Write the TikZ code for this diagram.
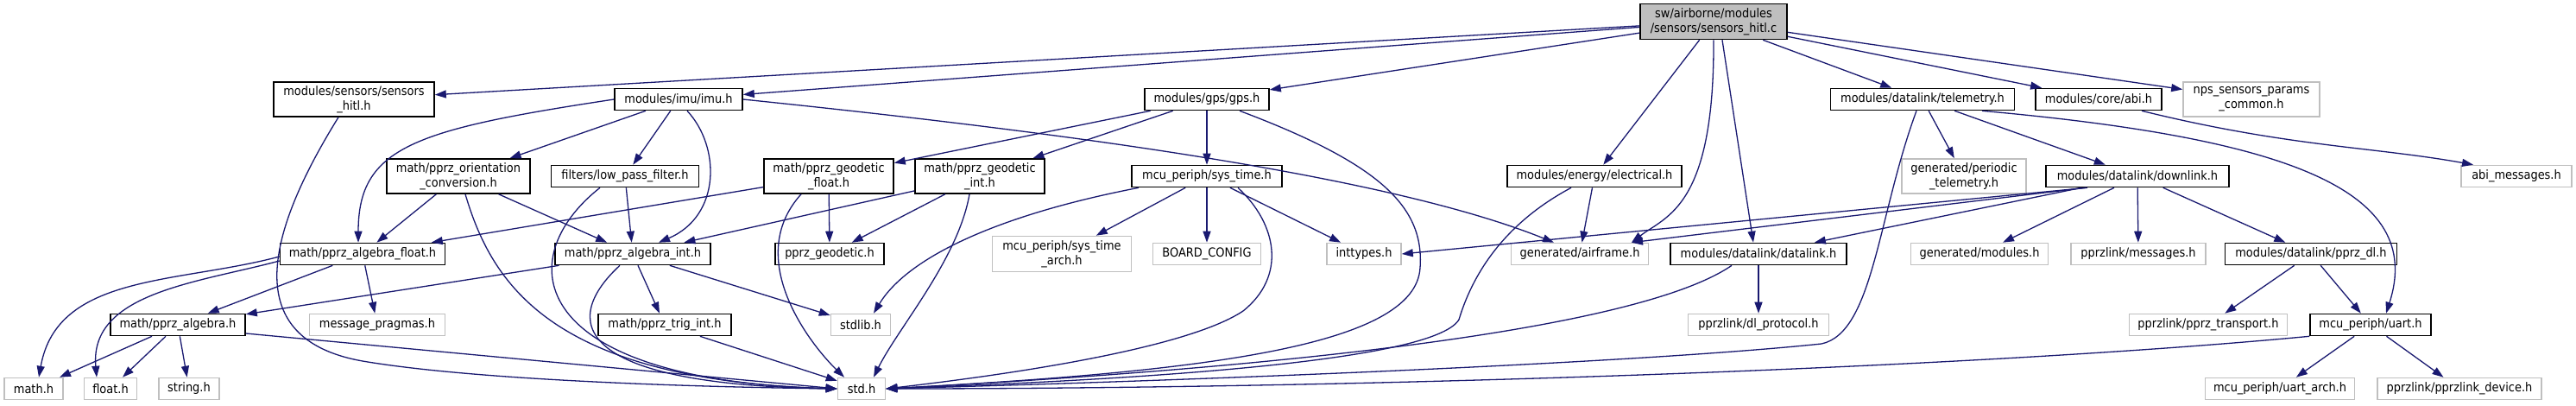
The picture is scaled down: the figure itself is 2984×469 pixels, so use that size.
\documentclass[tikz,border=0pt]{standalone}
\usepackage{fontspec}
\setmainfont{DejaVu Sans Condensed}
\usetikzlibrary{arrows.meta}
\definecolor{edgeblue}{RGB}{25,25,112}
\definecolor{undoc}{RGB}{191,191,191}

\begin{document}
\begin{tikzpicture}[x=1pt, y=-1pt,
    file/.style={line width=1.6pt, fill=white, inner sep=0pt, minimum height=25pt, align=center, font=\fontsize{14.4}{17}\selectfont},
    doc/.style={file, draw=black},
    ext/.style={file, draw=undoc},
    dep/.style={draw=edgeblue, line width=1.3pt, -{Triangle[length=13pt,width=9pt]}}]
        \fill[white] (0,0) rectangle (2984,469);

        % Draw files, row by row
        \node[doc, fill=undoc, minimum width=170pt, minimum height=41pt] (root) at (1985,25) {sw/airborne/modules\\/sensors/sensors\_hitl.c};

        \node[doc, minimum width=186pt, minimum height=40pt] (hitlh) at (410,115) {modules/sensors/sensors\\\_hitl.h};
        \node[doc, minimum width=148pt] (imu) at (786,115) {modules/imu/imu.h};
        \node[doc, minimum width=144pt] (gps) at (1398,115) {modules/gps/gps.h};
        \node[doc, minimum width=213pt] (telemetry) at (2227,115) {modules/datalink/telemetry.h};
        \node[doc, minimum width=146pt] (abi) at (2431,115) {modules/core/abi.h};
        \node[ext, minimum width=158pt, minimum height=40pt] (nps) at (2608,115) {nps\_sensors\_params\\\_common.h};

        \node[doc, minimum width=166pt, minimum height=40pt] (orient) at (531,204) {math/pprz\_orientation\\\_conversion.h};
        \node[doc, minimum width=171pt] (lowpass) at (724,204) {filters/low\_pass\_filter.h};
        \node[doc, minimum width=150pt, minimum height=40pt] (geofloat) at (960,204) {math/pprz\_geodetic\\\_float.h};
        \node[doc, minimum width=150pt, minimum height=40pt] (geoint) at (1135,204) {math/pprz\_geodetic\\\_int.h};
        \node[doc, minimum width=174pt] (systime) at (1398,204) {mcu\_periph/sys\_time.h};
        \node[doc, minimum width=202pt] (electrical) at (1847,204) {modules/energy/electrical.h};
        \node[ext, minimum width=144pt, minimum height=40pt] (periodic) at (2275,204) {generated/periodic\\\_telemetry.h};
        \node[doc, minimum width=212pt] (downlink) at (2476,204) {modules/datalink/downlink.h};
        \node[ext, minimum width=128pt] (abimsg) at (2915,204) {abi\_messages.h};

        \node[doc, minimum width=191pt] (algfloat) at (420,294) {math/pprz\_algebra\_float.h};
        \node[doc, minimum width=180pt] (algint) at (733,294) {math/pprz\_algebra\_int.h};
        \node[doc, minimum width=126pt] (geodetic) at (961,294) {pprz\_geodetic.h};
        \node[ext, minimum width=161pt, minimum height=41pt] (systimearch) at (1230,294) {mcu\_periph/sys\_time\\\_arch.h};
        \node[ext, minimum width=125pt] (board) at (1398,294) {BOARD\_CONFIG};
        \node[ext, minimum width=86pt] (inttypes) at (1580,294) {inttypes.h};
        \node[ext, minimum width=159pt] (airframe) at (1830,294) {generated/airframe.h};
        \node[doc, minimum width=204pt] (datalink) at (2037,294) {modules/datalink/datalink.h};
        \node[ext, minimum width=159pt] (modules) at (2293,294) {generated/modules.h};
        \node[ext, minimum width=156pt] (messages) at (2477,294) {pprzlink/messages.h};
        \node[doc, minimum width=199pt] (pprzdl) at (2677,294) {modules/datalink/pprz\_dl.h};

        \node[doc, minimum width=156pt] (algebra) at (206,376) {math/pprz\_algebra.h};
        \node[ext, minimum width=157pt] (pragmas) at (437,376) {message\_pragmas.h};
        \node[doc, minimum width=154pt] (trigint) at (770,376) {math/pprz\_trig\_int.h};
        \node[ext, minimum width=69pt] (stdlib) at (997,376) {stdlib.h};
        \node[ext, minimum width=163pt] (dlprotocol) at (2037,376) {pprzlink/dl\_protocol.h};
        \node[ext, minimum width=183pt] (transport) at (2558,376) {pprzlink/pprz\_transport.h};
        \node[doc, minimum width=140pt] (uart) at (2746,376) {mcu\_periph/uart.h};

        \node[ext, minimum width=68pt] (math) at (39,450) {math.h};
        \node[ext, minimum width=61pt] (float) at (128,450) {float.h};
        \node[ext, minimum width=70pt] (string) at (219,450) {string.h};
        \node[ext, minimum width=55pt] (std) at (998,450) {std.h};
        \node[ext, minimum width=173pt] (uartarch) at (2641,450) {mcu\_periph/uart\_arch.h};
        \node[ext, minimum width=190pt] (device) at (2849,450) {pprzlink/pprzlink\_device.h};

        % Straight includes
        \foreach \t in {hitlh,imu,gps,electrical,telemetry,abi,nps}
            \draw[dep] (root) -- (\t);
        \foreach \t in {orient,lowpass}
            \draw[dep] (imu) -- (\t);
        \foreach \t in {algfloat,algint}
            \draw[dep] (orient) -- (\t);
        \foreach \t in {algfloat,geodetic}
            \draw[dep] (geofloat) -- (\t);
        \foreach \t in {algint,geodetic}
            \draw[dep] (geoint) -- (\t);
        \foreach \t in {geofloat,geoint,systime}
            \draw[dep] (gps) -- (\t);
        \foreach \t in {systimearch,board,inttypes}
            \draw[dep] (systime) -- (\t);
        \foreach \t in {periodic,downlink}
            \draw[dep] (telemetry) -- (\t);
        \foreach \t in {datalink,modules,messages,pprzdl}
            \draw[dep] (downlink) -- (\t);
        \foreach \t in {transport,uart}
            \draw[dep] (pprzdl) -- (\t);
        \foreach \t in {uartarch,device}
            \draw[dep] (uart) -- (\t);
        \foreach \t in {algebra,pragmas}
            \draw[dep] (algfloat) -- (\t);
        \foreach \t in {algebra,trigint,stdlib}
            \draw[dep] (algint) -- (\t);
        \foreach \t in {math,float,string}
            \draw[dep] (algebra) -- (\t);
        \draw[dep] (lowpass) -- (algint);
        \draw[dep] (electrical) -- (airframe);
        \draw[dep] (datalink) -- (dlprotocol);
        \draw[dep] (trigint) -- (std);
        \draw[dep] ([xshift=10pt]root.south) -- ([xshift=-6pt]datalink.north);
        \draw[dep] ([xshift=-58pt]downlink.south) -- (inttypes.east);
        \draw[dep] ([xshift=-60pt]downlink.south) -- ([xshift=60pt]airframe.north);
        \draw[dep] ([yshift=-10pt]algebra.east) -- (std.west);

        % Curved includes
        \draw[dep] (root.south) .. controls (1986,240) and (1930,250) .. ([xshift=60pt]airframe.north);
        \draw[dep] (imu.west) .. controls (480,150) and (415,170) .. ([xshift=-5pt]algfloat.north);
        \draw[dep] ([xshift=10pt]imu.south) .. controls (835,170) and (835,250) .. ([xshift=30pt]algint.north);
        \draw[dep] (imu.east) .. controls (1200,150) and (1600,200) .. ([xshift=-30pt]airframe.north);
        \draw[dep] ([xshift=-32pt]geofloat.south) .. controls (860,300) and (940,400) .. ([xshift=-20pt]std.north);
        \draw[dep] ([xshift=-12pt]geoint.south) .. controls (1110,300) and (1040,380) .. ([xshift=14pt]std.north);
        \draw[dep] ([xshift=-79pt]systime.south) .. controls (1150,250) and (1050,300) .. ([xshift=15pt]stdlib.north);
        \draw[dep] ([xshift=69pt]telemetry.south) .. controls (2650,160) and (2810,220) .. ([xshift=18pt]uart.north);
        \draw[dep] ([xshift=50pt]abi.south) .. controls (2650,170) and (2750,170) .. ([xshift=-50pt]abimsg.north);
        \draw[dep] ([yshift=-3pt]algfloat.west) to[out=195,in=80] ([xshift=6pt]math.north);
        \draw[dep] ([yshift=-8pt]algfloat.west) to[out=195,in=95] ([xshift=-16pt]float.north);

        % Includes of std.h
        \draw[dep] ([xshift=-18pt]hitlh.south) .. controls (290,300) and (296,396) .. (420,418) .. controls (550,440) and (800,448) .. (std.west);
        \draw[dep] ([xshift=8pt]orient.south) .. controls (570,330) and (640,440) .. (std.west);
        \draw[dep] ([xshift=-29pt]lowpass.south) .. controls (590,300) and (610,440) .. (std.west);
        \draw[dep] ([xshift=-15pt]algint.south) .. controls (650,370) and (660,445) .. (std.west);
        \draw[dep] ([xshift=38pt]gps.south) .. controls (1600,190) and (1650,240) .. (1645,310) .. controls (1640,400) and (1400,430) .. (std.east);
        \draw[dep] ([xshift=36pt]systime.south) .. controls (1480,260) and (1490,320) .. (1440,360) .. controls (1380,400) and (1200,430) .. (std.east);
        \draw[dep] ([xshift=-27pt]electrical.south) .. controls (1740,260) and (1705,320) .. (1690,370) .. controls (1660,420) and (1300,440) .. (std.east);
        \draw[dep] ([xshift=-7pt]telemetry.south) .. controls (2175,250) and (2170,385) .. (2110,398) .. controls (1900,420) and (1400,440) .. (std.east);
        \draw[dep] ([xshift=-31pt]datalink.south) .. controls (1900,380) and (1500,425) .. (std.east);
        \draw[dep] (uart.south west) .. controls (2300,425) and (1600,450) .. (std.east);
    \end{tikzpicture}
\end{document}
